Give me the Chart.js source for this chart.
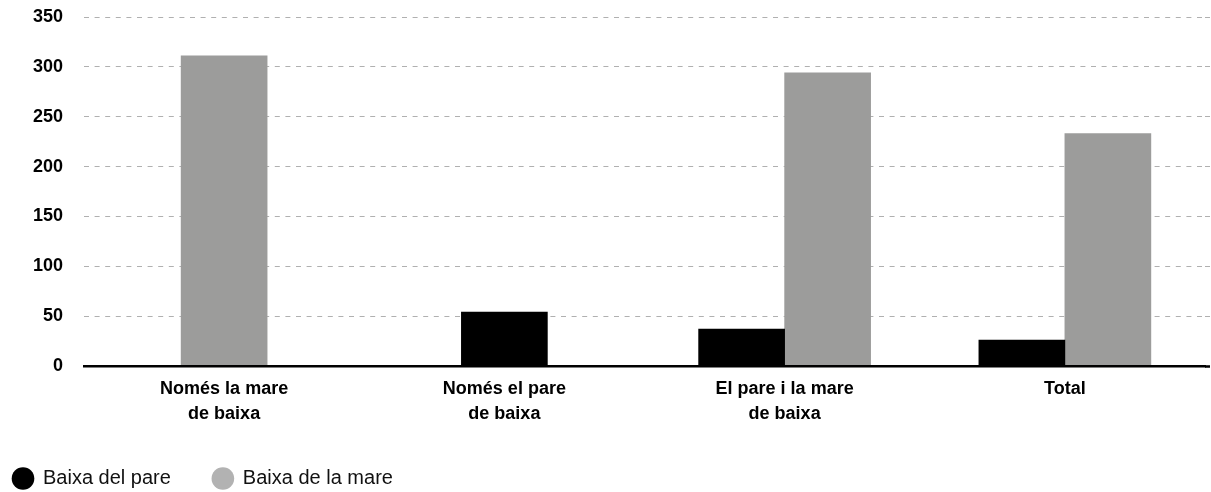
<!DOCTYPE html>
<html>
<head>
<meta charset="utf-8">
<script src="https://cdn.jsdelivr.net/npm/chart.js@4"></script>
<style>
  html, body { margin: 0; padding: 0; background: #ffffff; }
  #wrap { width: 1211px; height: 492px; position: relative; }
</style>
</head>
<body>
<div id="wrap"><canvas id="c"></canvas></div>
<script>
const categories = [
  ["Només la mare", "de baixa"],
  ["Només el pare", "de baixa"],
  ["El pare i la mare", "de baixa"],
  "Total"
];
const seriesNames = ["Baixa del pare", "Baixa de la mare"];
const pareValues = [null, 54, 37, 26];
const mareValues = [311, null, 294, 233];
const yTicks = [0, 50, 100, 150, 200, 250, 300, 350];

const FONT = "'Liberation Sans', Arial, Helvetica, sans-serif";
const legendColors = ["#000000", "#b2b2b2"];
const gridColor = (ctx) => (ctx.tick && ctx.tick.value === 0) ? 'rgba(0,0,0,0)' : '#b0b0b0';

new Chart(document.getElementById('c'), {
  type: 'bar',
  data: {
    labels: categories,
    datasets: [
      { label: seriesNames[0], data: pareValues, backgroundColor: '#000000', borderWidth: 0 },
      { label: seriesNames[1], data: mareValues, backgroundColor: '#9c9c9b', borderWidth: 0 }
    ]
  },
  options: {
    responsive: true,
    maintainAspectRatio: false,
    animation: false,
    skipNull: true,
    barThickness: 86,
    layout: { padding: { left: -29, right: 0, top: 17, bottom: -6.5 } },
    plugins: {
      tooltip: { enabled: false },
      legend: {
        position: 'bottom',
        align: 'start',
        labels: {
          usePointStyle: true,
          pointStyle: 'circle',
          boxWidth: 20,
          boxHeight: 16,
          padding: 42,
          color: '#111111',
          font: { family: FONT, size: 20 },
          generateLabels: (chart) => {
            const items = Chart.defaults.plugins.legend.labels.generateLabels(chart);
            items.forEach((it, i) => {
              it.fillStyle = legendColors[i];
              it.strokeStyle = legendColors[i];
              it.lineWidth = 0;
            });
            return items;
          }
        }
      }
    },
    scales: {
      x: {
        afterFit: (scale) => { scale.height = 60.5; },
        grid: { display: false, drawTicks: false },
        border: { display: true, color: '#000000', width: 2.5, z: 1 },
        ticks: {
          color: '#000000',
          padding: 10,
          maxRotation: 0,
          autoSkip: false,
          font: { family: FONT, size: 18, weight: 'bold', lineHeight: 1.4 }
        }
      },
      y: {
        min: 0,
        max: 350,
        afterFit: (scale) => { scale.width = 113; scale.paddingTop = 0; scale.paddingBottom = 0; },
        afterBuildTicks: (scale) => { scale.ticks = yTicks.map(v => ({ value: v })); },
        grid: { drawTicks: false, lineWidth: 1, color: gridColor },
        border: { display: false, dash: [5, 5.6] },
        ticks: {
          color: '#000000',
          padding: 21,
          font: { family: FONT, size: 18, weight: 'bold' }
        }
      },
      y2: {
        position: 'right',
        min: 0,
        max: 350,
        afterFit: (scale) => { scale.width = 6; scale.paddingTop = 0; scale.paddingBottom = 0; },
        afterBuildTicks: (scale) => { scale.ticks = yTicks.map(v => ({ value: v })); },
        grid: {
          drawOnChartArea: false,
          drawTicks: true,
          tickLength: 6,
          tickColor: (ctx) => (ctx.tick && ctx.tick.value === 0) ? '#000000' : '#b0b0b0',
          tickWidth: (ctx) => (ctx.tick && ctx.tick.value === 0) ? 2.5 : 1,
          tickBorderDash: [5, 5.6]
        },
        border: { display: false },
        ticks: { display: false }
      }
    }
  }
});
</script>
</body>
</html>
